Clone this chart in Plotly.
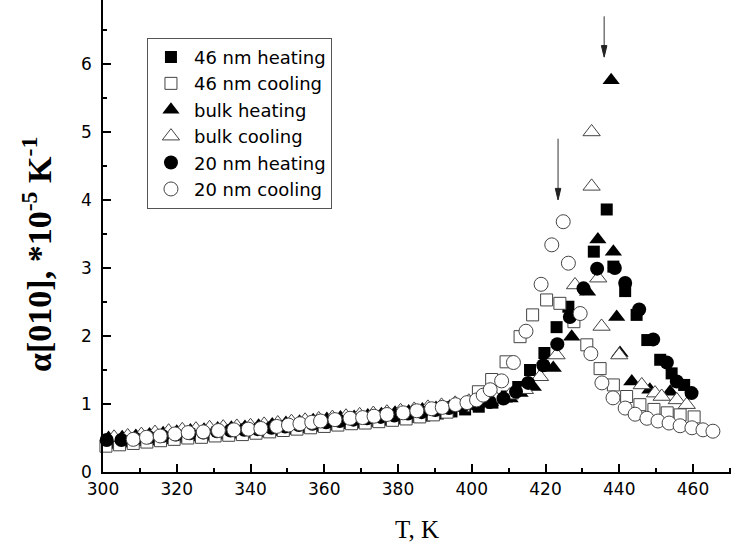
import plotly.graph_objects as go

# ---------------- data ----------------
T_46h = [302.0, 305.7, 309.4, 313.1, 316.8, 320.5, 324.2, 327.9, 331.6, 335.3, 339.0, 342.7,
         346.4, 350.1, 353.8, 357.5, 361.2, 364.9, 368.6, 372.3, 376.0, 379.7, 383.4, 387.1,
         390.8, 394.5, 398.2, 401.9, 405.6, 409.5, 412.6, 415.8, 419.7, 423.0, 426.2, 433.1,
         436.6, 438.4, 441.6, 444.7, 447.6, 451.1, 454.2, 457.6]
A_46h = [0.43, 0.45, 0.47, 0.48, 0.50, 0.52, 0.54, 0.55, 0.57, 0.58, 0.59, 0.60,
         0.62, 0.64, 0.66, 0.68, 0.70, 0.72, 0.73, 0.75, 0.77, 0.79, 0.81, 0.83,
         0.86, 0.89, 0.92, 0.96, 1.02, 1.11, 1.25, 1.50, 1.75, 2.13, 2.43, 3.24,
         3.86, 3.02, 2.66, 2.31, 1.94, 1.65, 1.45, 1.28]

T_46c = [300.8, 304.5, 308.2, 311.9, 315.6, 319.3, 323.0, 326.7, 330.4, 334.1, 337.8, 341.5,
         345.2, 348.9, 352.6, 356.3, 360.0, 363.7, 367.4, 371.1, 374.8, 378.5, 382.2, 385.9,
         389.6, 393.3, 397.8, 401.8, 405.4, 409.3, 413.1, 416.5, 420.3, 423.9, 427.7, 431.2,
         434.8, 438.4, 442.0, 445.6, 449.4, 453.0, 456.5, 460.3]
A_46c = [0.38, 0.40, 0.42, 0.44, 0.46, 0.48, 0.50, 0.51, 0.53, 0.54, 0.55, 0.57,
         0.59, 0.61, 0.63, 0.65, 0.67, 0.69, 0.71, 0.72, 0.74, 0.76, 0.78, 0.81,
         0.84, 0.88, 0.98, 1.18, 1.36, 1.62, 1.99, 2.31, 2.53, 2.48, 2.21, 1.87,
         1.52, 1.28, 1.11, 0.99, 0.92, 0.87, 0.84, 0.81]

T_bh = [301.5, 305.2, 308.9, 312.6, 316.3, 320.0, 323.7, 327.4, 331.1, 334.8, 338.5, 342.2,
        345.9, 349.6, 353.3, 357.0, 360.7, 364.4, 368.1, 371.8, 375.5, 379.2, 382.9, 386.6,
        390.3, 394.0, 397.7, 401.4, 405.1, 410.4, 413.1, 416.7, 422.1, 427.1, 431.4, 434.2,
        437.8, 438.4, 439.3, 440.2, 443.4, 448.3, 453.8]
A_bh = [0.50, 0.51, 0.53, 0.55, 0.57, 0.59, 0.61, 0.62, 0.64, 0.65, 0.66, 0.68,
        0.70, 0.72, 0.74, 0.76, 0.78, 0.80, 0.81, 0.83, 0.85, 0.87, 0.89, 0.92,
        0.94, 0.96, 0.98, 1.00, 1.03, 1.08, 1.16, 1.25, 1.53, 1.99, 2.65, 3.42,
        5.76, 3.24, 2.28, 1.75, 1.33, 1.21, 1.18]

T_bc = [303.0, 306.7, 310.4, 314.1, 317.8, 321.5, 325.2, 328.9, 332.6, 336.3, 340.0, 343.7,
        347.4, 351.1, 354.8, 358.5, 362.2, 365.9, 369.6, 373.3, 377.0, 380.7, 384.4, 388.1,
        391.8, 395.5, 399.2, 402.9, 406.6, 410.3, 414.4, 418.5, 423.0, 428.0, 432.5, 432.5,
        434.3, 435.2, 440.0, 446.1, 449.7, 451.5, 455.6, 458.3]
A_bc = [0.51, 0.53, 0.55, 0.58, 0.60, 0.62, 0.63, 0.65, 0.66, 0.67, 0.68, 0.70,
        0.72, 0.74, 0.76, 0.78, 0.80, 0.82, 0.84, 0.86, 0.88, 0.90, 0.92, 0.95,
        0.98, 1.01, 1.04, 1.06, 1.08, 1.13, 1.21, 1.40, 1.72, 2.75, 4.20, 5.00,
        2.85, 2.14, 1.72, 1.28, 1.16, 1.11, 1.06, 0.99]

T_20h = [301.0, 305.0, 308.7, 312.4, 316.1, 319.8, 323.5, 327.2, 330.9, 334.6, 338.3, 342.0,
         345.7, 349.4, 353.1, 356.8, 360.5, 364.2, 367.9, 371.6, 375.3, 379.0, 382.7, 386.4,
         390.1, 393.8, 397.5, 401.2, 404.9, 408.6, 412.0, 415.3, 419.4, 423.2, 426.6, 430.3,
         434.0, 438.8, 441.6, 445.4, 449.2, 452.9, 455.6, 459.6]
A_20h = [0.47, 0.47, 0.49, 0.51, 0.53, 0.55, 0.57, 0.58, 0.60, 0.61, 0.62, 0.63,
         0.65, 0.67, 0.69, 0.71, 0.73, 0.75, 0.77, 0.79, 0.81, 0.83, 0.86, 0.88,
         0.91, 0.94, 0.97, 0.99, 1.03, 1.08, 1.18, 1.31, 1.57, 1.88, 2.28, 2.70,
         2.99, 3.00, 2.78, 2.39, 1.95, 1.61, 1.33, 1.16]

T_20c = [308.2, 311.8, 315.5, 319.5, 323.1, 327.2, 331.3, 335.5, 339.4, 342.8, 347.1, 350.3,
         353.4, 356.6, 359.0, 362.9, 367.0, 370.4, 373.5, 377.0, 381.4, 385.1, 389.1, 392.0,
         395.6, 398.7, 401.3, 403.1, 405.0, 408.1, 411.3, 414.7, 418.8, 421.7, 424.8, 426.2,
         429.4, 432.3, 435.3, 438.3, 441.6, 444.3, 447.5, 450.5, 453.5, 456.5, 459.7, 462.7,
         465.4]
A_20c = [0.48, 0.51, 0.53, 0.56, 0.58, 0.59, 0.61, 0.62, 0.63, 0.64, 0.67, 0.69,
         0.71, 0.73, 0.75, 0.77, 0.79, 0.80, 0.82, 0.845, 0.87, 0.90, 0.93, 0.95,
         0.99, 1.02, 1.06, 1.13, 1.21, 1.34, 1.61, 2.07, 2.76, 3.34, 3.68, 3.07,
         2.33, 1.74, 1.31, 1.09, 0.94, 0.85, 0.79, 0.75, 0.72, 0.68, 0.65, 0.62,
         0.60]

names = ["46 nm heating", "46 nm cooling", "bulk heating", "bulk cooling",
         "20 nm heating", "20 nm cooling"]
xticks = [300, 320, 340, 360, 380, 400, 420, 440, 460]
yticks = [0, 1, 2, 3, 4, 5, 6]
y_title = "<b>α[010], *10<sup>-5</sup> K<sup>-1</sup></b>"
x_title = "T, K"

# peak markers (arrow x position, arrow top, arrow head tip)
arrow_T = [435.9, 423.4]
arrow_top = [6.70, 4.90]
arrow_tip = [6.10, 4.00]

# ---------------- figure ----------------
series = [
    (T_46h, A_46h, "square", True, 12),
    (T_46c, A_46c, "square", False, 12),
    (T_bh, A_bh, "triangle-up", True, 15),
    (T_bc, A_bc, "triangle-up", False, 15),
    (T_20h, A_20h, "circle", True, 14),
    (T_20c, A_20c, "circle", False, 14),
]

fig = go.Figure()
for i, (tx, ay, sym, filled, sz) in enumerate(series):
    if filled:
        mk = dict(symbol=sym, size=sz, color="black", line=dict(color="black", width=0))
    else:
        mk = dict(symbol=sym, size=sz, color="white", line=dict(color="#444444", width=1))
    fig.add_trace(go.Scatter(x=tx, y=ay, mode="markers", name=names[i], marker=mk,
                             cliponaxis=False, legendgroup=str(i)))

SANS = "DejaVu Sans, Arial"
SERIF = "Liberation Serif, Times New Roman"

axis_common = dict(showline=True, linecolor="black", linewidth=1.5, ticks="inside",
                   ticklen=8, tickwidth=1.5, tickcolor="black", showgrid=False,
                   zeroline=False, mirror=False,
                   tickfont=dict(family=SANS, size=17, color="black"))

fig.update_layout(
    width=731, height=546,
    margin=dict(l=103, r=0, t=0, b=74),
    plot_bgcolor="white", paper_bgcolor="white",
    showlegend=True,
    legend=dict(x=0.07, y=0.92, xanchor="left", yanchor="top",
                bordercolor="#555555", borderwidth=1, bgcolor="white",
                font=dict(family=SANS, size=18, color="black"),
                tracegroupgap=0, itemwidth=36),
    xaxis=dict(range=[300, 470.3], tickvals=xticks, ticktext=[str(v) for v in xticks],
               minor=dict(ticks="inside", ticklen=4, tickwidth=1.5, tickcolor="black", dtick=10,
                          tick0=300),
               ticklabelstandoff=1,
               title=dict(text=x_title, standoff=22,
                          font=dict(family=SERIF, size=25, color="black")),
               **axis_common),
    yaxis=dict(range=[0, 6.94], tickvals=yticks, ticktext=[str(v) for v in yticks],
               minor=dict(ticks="inside", ticklen=4, tickwidth=1.5, tickcolor="black", dtick=0.5,
                          tick0=0),
               ticklabelstandoff=6,
               **axis_common),
)

# y-axis title as rotated text, placed like the reference (slightly below centre)
fig.add_annotation(text=y_title, xref="paper", yref="paper", x=-0.105, y=0.46,
                   xanchor="center", yanchor="middle", textangle=-90, showarrow=False,
                   font=dict(family=SERIF, size=34, color="black"))

# arrows marking the peaks (line + small filled head)
for xa, y0, y1 in zip(arrow_T, arrow_top, arrow_tip):
    fig.add_shape(type="line", xref="x", yref="y", x0=xa, x1=xa, y0=y0, y1=y1 + 0.08,
                  line=dict(color="#333333", width=1))
    fig.add_shape(type="path", xref="x", yref="y",
                  path=f"M {xa} {y1} L {xa - 0.75} {y1 + 0.17} L {xa + 0.75} {y1 + 0.17} Z",
                  fillcolor="#222222", line=dict(color="#222222", width=1))

fig.write_html("out.html")
